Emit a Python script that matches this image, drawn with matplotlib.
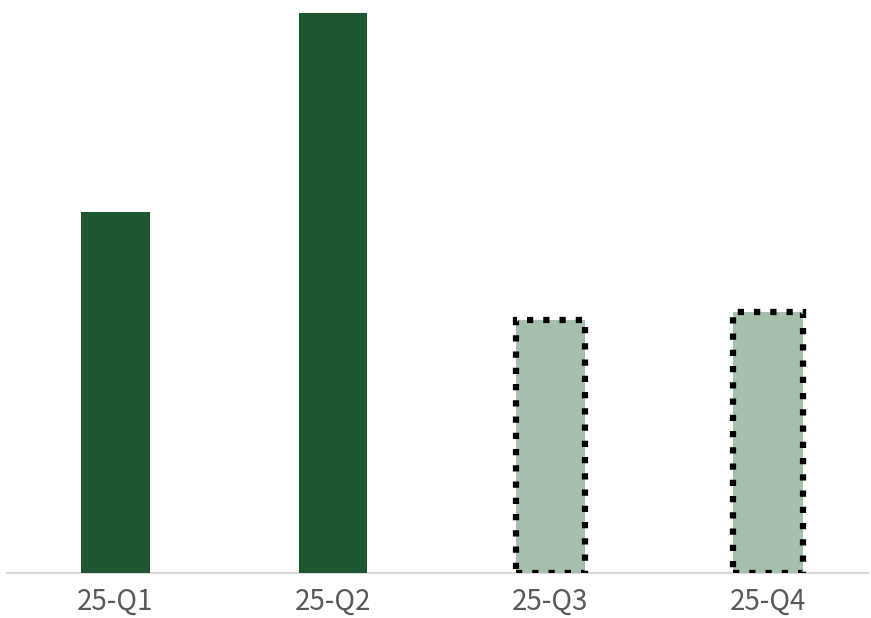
import matplotlib
matplotlib.use("Agg")
import matplotlib.pyplot as plt

categories = ["25-Q1", "25-Q2", "25-Q3", "25-Q4"]
values = [361, 560, 253, 261]
is_forecast = [False, False, True, True]

dark = "#1f5632"
light = "#a7bfad"

fig = plt.figure(figsize=(8.71, 6.18), dpi=100)
ax = fig.add_axes([7/871, 1-573/618, 861/871, 560/618])

x = list(range(len(categories)))
for xi, v, f in zip(x, values, is_forecast):
    if f:
        ax.bar(xi, v, width=0.32, color=light, edgecolor="black", linewidth=4.5,
               linestyle=(0, (1.0, 1.6)), zorder=3)
    else:
        ax.bar(xi, v, width=0.317, color=dark, zorder=3)

ax.set_xlim(-108.5/217.5, 3 + 100/217.5)
ax.set_ylim(0, 560)
for s in ["top", "right", "left"]:
    ax.spines[s].set_visible(False)
ax.spines["bottom"].set_color("#d9d9d9")
ax.spines["bottom"].set_linewidth(1.5)
ax.set_yticks([])
ax.set_xticks(x)
ax.set_xticklabels(categories, fontsize=20, color="#595959", fontweight="light",
                   family=["Noto Sans CJK SC", "DejaVu Sans"])
ax.tick_params(axis="x", length=0, pad=10)

fig.savefig("out.png", dpi=100)
